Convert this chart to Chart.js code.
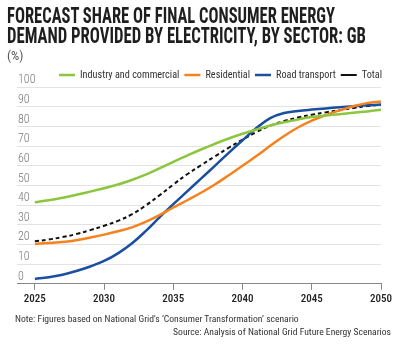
<!DOCTYPE html>
<html>
<head>
<meta charset="utf-8">
<script src="https://cdn.jsdelivr.net/npm/chart.js@4"></script>
<style>
  html, body { margin: 0; padding: 0; background: #fff; }
  #wrap { position: relative; width: 400px; height: 344px; overflow: hidden; }
  #chart { position: absolute; left: 0; top: 0; }
  .title { position: absolute; left: 7px; font-family: "Roboto Condensed", sans-serif; font-weight: 700;
           font-size: 22.5px; color: #1e1e1e; white-space: nowrap; transform-origin: 0 0; line-height: 20px; }
  #unit { position: absolute; left: 7px; top: 48px; font-family: "Roboto Condensed", sans-serif;
          font-size: 13px; color: #555; }
  .note { position: absolute; font-family: "Roboto Condensed", sans-serif; font-size: 9.6px; color: #333; white-space: nowrap; }
</style>
</head>
<body>
<div id="wrap">
  <canvas id="chart" width="400" height="344"></canvas>
  <div class="title" id="t1" style="top:5px">FORECAST SHARE OF FINAL CONSUMER ENERGY</div>
  <div class="title" id="t2" style="top:25px">DEMAND PROVIDED BY ELECTRICITY, BY SECTOR: GB</div>
  <div id="unit">(%)</div>
  <div class="note" style="left:15px; top:313px">Note: Figures based on National Grid's ‘Consumer Transformation’ scenario</div>
  <div class="note" style="right:9px; top:326px">Source: Analysis of National Grid Future Energy Scenarios</div>
</div>
<script>
"use strict";

var years = [2025, 2026, 2027, 2028, 2029, 2030, 2031, 2032, 2033, 2034, 2035, 2036, 2037,
             2038, 2039, 2040, 2041, 2042, 2043, 2044, 2045, 2046, 2047, 2048, 2049, 2050];
var industry = [41.5, 42.5, 43.8, 45.3, 46.9, 48.6, 50.5, 52.8, 55.5, 58.7, 62.0, 65.2, 68.3,
                71.2, 73.9, 76.3, 78.5, 80.5, 82.2, 83.6, 84.8, 85.6, 86.3, 87.0, 87.7, 88.5];
var residential = [20.3, 20.7, 21.3, 22.2, 23.5, 25.0, 26.7, 28.7, 31.5, 34.9, 38.8, 42.5, 46.3,
                   50.5, 55.2, 60.0, 65.0, 70.2, 75.2, 79.5, 83.0, 85.8, 88.2, 90.3, 91.9, 92.7];
var road = [2.5, 3.3, 4.6, 6.5, 8.8, 11.6, 15.5, 20.5, 26.8, 33.8, 40.5, 47.0, 53.5,
            60.0, 66.6, 73.0, 79.2, 84.3, 86.9, 87.9, 88.6, 89.2, 89.8, 90.3, 90.8, 91.2];
var total = [21.7, 22.5, 23.8, 25.3, 27.3, 29.5, 32.0, 35.3, 39.8, 45.0, 50.5, 55.7, 60.3,
             64.8, 69.2, 73.3, 77.2, 80.4, 82.8, 84.6, 86.0, 87.2, 88.3, 89.4, 90.4, 91.1];
var xTicks = [2025, 2030, 2035, 2040, 2045, 2050];

// squeeze the headline into the condensed width of the original
[['t1', 328], ['t2', 359]].forEach(function (t) {
  var el = document.getElementById(t[0]);
  el.style.transform = 'scaleX(' + (t[1] / el.getBoundingClientRect().width) + ')';
});

function series(label, values, colour, dash) {
  return {
    label: label,
    data: years.map(function (y, i) { return { x: y, y: values[i] }; }),
    borderColor: colour,
    backgroundColor: colour,
    borderWidth: dash ? 2 : 2.5,
    borderDash: dash || [],
    pointRadius: 0,
    tension: 0.4
  };
}

// legend sits tight on the 100 line and flush with the right edge
var legendTweak = {
  id: 'legendTweak',
  beforeInit: function (chart) {
    var fit = chart.legend.fit;
    chart.legend.fit = function () {
      fit.call(this);
      this.height -= 3;
    };
  },
  afterLayout: function (chart) {
    chart.legend.left += 6;
    chart.legend.right += 6;
  }
};

var font = "'Roboto Condensed', sans-serif";
var ctx = document.getElementById('chart').getContext('2d');
var chart = new Chart(ctx, {
  type: 'line',
  data: {
    datasets: [
      series('Industry and commercial', industry, '#8cc63e'),
      series('Residential', residential, '#f5821f'),
      series('Road transport', road, '#1a4f9f'),
      series('Total', total, '#111111', [4, 3])
    ]
  },
  plugins: [legendTweak],
  options: {
    responsive: false,
    animation: false,
    layout: { padding: { left: 15, right: 19, top: 65, bottom: 35 } },
    plugins: {
      tooltip: { enabled: false },
      legend: {
        position: 'top',
        align: 'end',
        labels: {
          usePointStyle: true,
          pointStyle: 'line',
          pointStyleWidth: 16,
          boxWidth: 16,
          boxHeight: 10,
          padding: 5,
          color: '#333',
          font: { family: font, size: 10.2 }
        }
      }
    },
    scales: {
      x: {
        type: 'linear',
        min: 2023.71,
        max: 2050,
        afterBuildTicks: function (axis) {
          axis.ticks = xTicks.map(function (v) { return { value: v }; });
        },
        grid: { drawOnChartArea: false, color: '#888', tickLength: 6 },
        border: { color: '#888' },
        ticks: {
          color: '#222',
          padding: 3,
          maxRotation: 0,
          font: { family: font, size: 11, weight: '500' },
          callback: function (v) { return String(v); }
        }
      },
      y: {
        min: 0,
        max: 100,
        grid: { color: '#e3e3e3', drawTicks: false },
        border: { display: false },
        ticks: {
          stepSize: 10,
          mirror: true,
          padding: 1,
          labelOffset: -7,
          color: '#777',
          font: { family: font, size: 12, weight: '300' }
        }
      }
    }
  }
});
</script>
</body>
</html>
